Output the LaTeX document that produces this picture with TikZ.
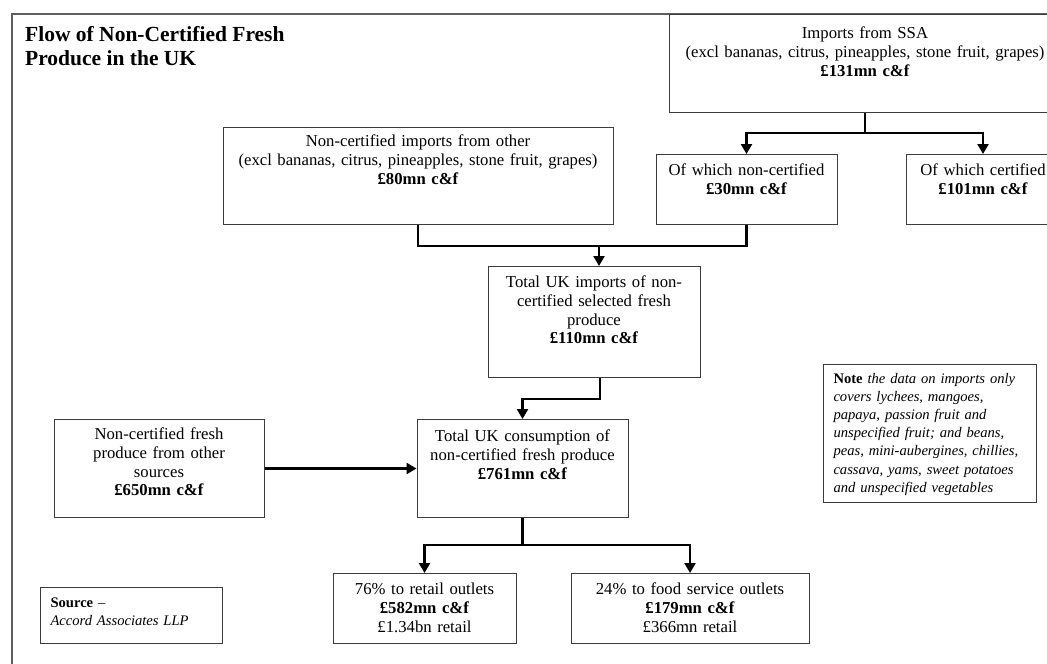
\documentclass[tikz,border=0pt]{standalone}
\usepackage{fontspec}
\setmainfont{Liberation Serif}
\usepackage{xcolor}
\usetikzlibrary{arrows.meta,positioning,calc}
\definecolor{boxgray}{RGB}{60,60,60}
\definecolor{framegray}{RGB}{95,95,95}

\begin{document}
\begin{tikzpicture}[x=1pt, y=-1pt, font=\fontsize{16.7}{18.8}\selectfont]
    \tikzstyle{box}=[draw=boxgray, line width=1pt, inner sep=0pt, anchor=north, align=center, text height=21pt]
    \tikzstyle{notebox}=[draw=boxgray, line width=1pt, inner xsep=10pt, inner ysep=0pt, anchor=north west, align=left, text height=19pt, font=\fontsize{14.6}{18.1}\selectfont]
    \tikzstyle{link}=[line width=2.5pt]
    \tikzstyle{arrow}=[link, -{Triangle[length=10pt, width=11pt]}]
    \useasboundingbox (0,0) rectangle (1047,664);
    \clip (0,0) rectangle (1047,664);
    \draw[framegray, line width=1.5pt] (12,670) -- (12,14) -- (1060,14);
    \node[anchor=base west, align=left, inner sep=0pt, font=\fontsize{21.5}{24}\selectfont\bfseries] (title) at (25,65) {Flow of Non-Certified Fresh\\Produce in the UK};
    \node[box, text width=392pt, text height=24pt, text depth=74pt] (ssa) at (865,14) {Imports from SSA\\(excl bananas, citrus, pineapples, stone fruit, grapes)\\\textbf{£131mn c\&f}};
    \node[box, text width=181pt, text depth=49pt] (noncert) at (746.5,154) {Of which non-certified\\\textbf{£30mn c\&f}};
    \node[box, text width=154pt, text depth=49pt] (cert) at (983,154) {Of which certified\\\textbf{£101mn c\&f}};
    \node[box, text width=390pt, text height=19pt, text depth=78pt] (other) at (418,127) {Non-certified imports from other\\(excl bananas, citrus, pineapples, stone fruit, grapes)\\\textbf{£80mn c\&f}};
    \node[box, text width=212pt, text depth=90pt] (totimp) at (594,266) {Total UK imports of non-\\certified selected fresh\\produce\\\textbf{£110mn c\&f}};
    \node[box, text width=211pt, text height=22pt, text depth=76pt] (cons) at (522.5,419) {Total UK consumption of\\non-certified fresh produce\\\textbf{£761mn c\&f}};
    \node[box, text width=210pt, text height=20pt, text depth=78pt] (othersrc) at (159,419) {Non-certified fresh\\produce from other\\sources\\\textbf{£650mn c\&f}};
    \node[box, text width=183pt, text depth=49pt] (retail) at (424.5,573) {76\% to retail outlets\\\textbf{£582mn c\&f}\\£1.34bn retail};
    \node[box, text width=238pt, text depth=49pt] (food) at (690,573) {24\% to food service outlets\\\textbf{£179mn c\&f}\\£366mn retail};
    \node[notebox, text width=162pt, text height=20pt, text depth=36pt] (source) at (40,587) {\textbf{Source} --\\\textit{Accord Associates LLP}};
    \node[notebox, text width=193pt, text depth=119pt] (note) at (823,364) {\textbf{Note} \textit{the data on imports only}\\\textit{covers lychees, mangoes,}\\\textit{papaya, passion fruit and}\\\textit{unspecified fruit; and beans,}\\\textit{peas, mini-aubergines, chillies,}\\\textit{cassava, yams, sweet potatoes}\\\textit{and unspecified vegetables}};
    \coordinate (ssasplit) at (865,133);
    \draw[link] (ssa.south) -- (ssasplit);
    \draw[arrow] (ssasplit) -| (noncert.north);
    \draw[arrow] (ssasplit) -| (cert.north);
    \draw[link] (other.south) -- ++(0,21) -| (noncert.south);
    \coordinate (impjoin) at (599,245);
    \draw[arrow] (impjoin) -- (impjoin |- totimp.north);
    \draw[arrow] ([xshift=6pt]totimp.south) -- ++(0,21) -| (cons.north);
    \draw[arrow] (othersrc.east) -- (othersrc.east -| cons.west);
    \draw[link] (cons.south) -- ++(0,27) coordinate (consplit);
    \draw[arrow] (consplit) -| (retail.north);
    \draw[arrow] (consplit) -| (food.north);
\end{tikzpicture}
\end{document}
